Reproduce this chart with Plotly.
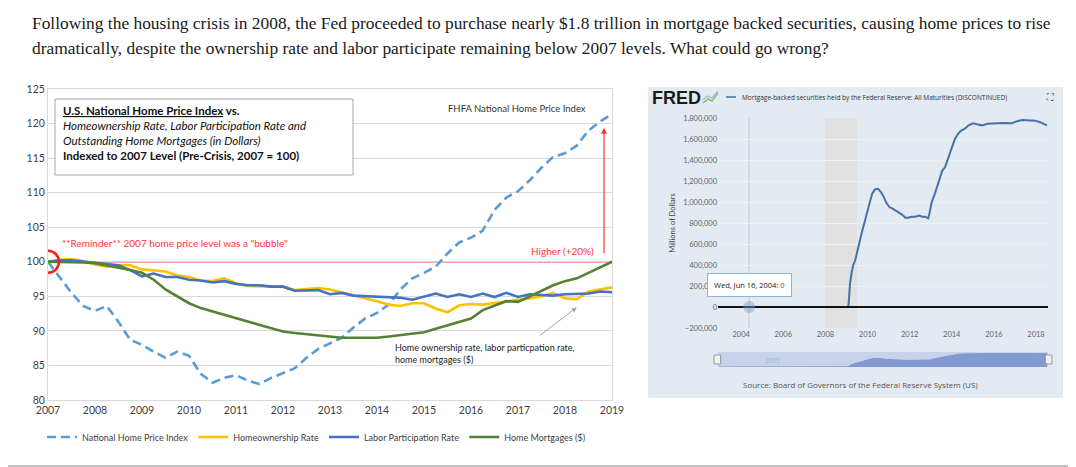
import plotly.graph_objects as go

# ---- left chart: quarterly index values, 2007 = 100 ----
quarters = [2007 + q / 4 for q in range(49)]

home_price = [100, 97.8, 95.5, 93.6, 92.9, 93.6, 91.3, 88.7, 88.0, 87.0, 86.1, 87.0,
              86.4, 83.8, 82.5, 83.2, 83.6, 82.8, 82.3, 83.2, 83.9, 84.6, 86.1, 87.4,
              88.2, 89.0, 90.5, 91.8, 92.6, 93.8, 96.0, 97.6, 98.4, 99.3, 101.2, 102.8,
              103.5, 104.5, 107.5, 109.3, 110.2, 111.8, 113.6, 115.2, 115.7, 116.8, 119.0,
              120.3, 121.4]
ownership = [100, 100.3, 100.4, 100.1, 99.6, 99.3, 99.5, 99.5, 98.9, 98.7, 98.6, 98.0,
             97.8, 97.3, 97.2, 97.6, 96.9, 96.5, 96.5, 96.4, 96.4, 95.9, 96.0, 96.2,
             96.0, 95.6, 95.2, 94.8, 94.3, 93.8, 93.6, 94.0, 94.0, 93.2, 92.7, 93.7,
             93.9, 93.8, 94.0, 94.2, 94.5, 94.7, 95.0, 95.5, 94.7, 94.6, 95.7, 96.0, 96.3]
labor = [100, 100.2, 100.2, 100.0, 99.8, 99.6, 99.5, 98.8, 97.9, 98.3, 97.8, 97.8,
         97.4, 97.3, 97.0, 97.2, 96.8, 96.6, 96.6, 96.4, 96.4, 95.8, 95.9, 95.9,
         95.3, 95.5, 95.1, 95.0, 95.0, 94.9, 94.8, 94.5, 95.0, 95.4, 94.9, 95.3,
         94.9, 95.4, 94.9, 95.5, 94.9, 95.3, 95.2, 95.1, 95.3, 95.3, 95.4, 95.7, 95.6]
mortgages = [100, 100.0, 100.0, 99.9, 99.8, 99.5, 99.1, 98.8, 98.4, 97.4, 96.0, 95.0,
             94.0, 93.3, 92.8, 92.3, 91.8, 91.3, 90.8, 90.3, 89.9, 89.7, 89.5, 89.3,
             89.1, 89.0, 89.0, 89.0, 89.0, 89.2, 89.4, 89.6, 89.8, 90.3, 90.8, 91.3,
             91.8, 93.0, 93.7, 94.3, 94.2, 95.0, 95.8, 96.6, 97.2, 97.6, 98.4, 99.2, 100.0]

series_names = ["National Home Price Index", "Homeownership Rate",
                "Labor Participation Rate", "Home Mortgages ($)"]
year_ticks = list(range(2007, 2020))

# ---- right chart: Fed MBS holdings (millions of dollars) ----
mbs_dates = [2002.95, 2009.05, 2009.10, 2009.17, 2009.25, 2009.32, 2009.41, 2009.48,
             2009.55, 2009.65, 2009.74, 2009.85, 2009.98, 2010.10, 2010.22, 2010.35,
             2010.50, 2010.62, 2010.74, 2010.90, 2011.05, 2011.17, 2011.40, 2011.64,
             2011.80, 2011.93, 2012.10, 2012.26, 2012.45, 2012.60, 2012.73, 2012.88,
             2012.95, 2013.05, 2013.20, 2013.40, 2013.55, 2013.68, 2013.85, 2014.01,
             2014.15, 2014.30, 2014.45, 2014.63, 2014.80, 2015.01, 2015.20, 2015.44,
             2015.70, 2016.05, 2016.40, 2016.86, 2017.10, 2017.34, 2017.60, 2017.95,
             2018.20, 2018.52]
mbs_values = [0, 0, 20000, 228000, 330000, 400000, 440000, 500000,
              560000, 660000, 720000, 800000, 900000, 1010000, 1080000, 1120000,
              1125000, 1100000, 1060000, 990000, 950000, 940000, 910000, 880000,
              850000, 850000, 860000, 860000, 870000, 860000, 860000, 845000,
              900000, 1000000, 1080000, 1200000, 1300000, 1330000, 1440000, 1520000,
              1600000, 1650000, 1680000, 1700000, 1730000, 1750000, 1740000, 1730000,
              1745000, 1750000, 1752000, 1750000, 1770000, 1780000, 1778000, 1775000,
              1760000, 1730000]
fred_ticks = [2004, 2006, 2008, 2010, 2012, 2014, 2016, 2018]
recession = (2007.98, 2009.5)
hover_date = 2004.38

# the page body adds an 8px margin, so the figure is drawn 8px smaller
OFF = 8
W, H = 1076 - OFF, 467 - OFF


def px(x):
    return (x - OFF) / W


def py(y):
    return 1 - (y - OFF) / H


FONT = "Lato"
fig = go.Figure()

styles = [dict(color="#5b9bd5", width=2.6, dash="9px,5px"),
          dict(color="#ffc000", width=2.6),
          dict(color="#4472c4", width=2.6),
          dict(color="#548235", width=2.6)]
for name, vals, st in zip(series_names, [home_price, ownership, labor, mortgages], styles):
    fig.add_trace(go.Scatter(x=quarters, y=vals, name=name, mode="lines",
                             line=st, xaxis="x", yaxis="y"))

fig.add_trace(go.Scatter(x=mbs_dates, y=mbs_values, mode="lines", showlegend=False,
                         line=dict(color="#4572a7", width=2), xaxis="x2", yaxis="y2"))
fig.add_trace(go.Scatter(x=mbs_dates, y=mbs_values, mode="lines", fill="tozeroy",
                         showlegend=False, line=dict(color="#7d98cf", width=1),
                         fillcolor="#819bd0", xaxis="x3", yaxis="y3"))

grid = "#d9d9d9"
fig.update_layout(
    width=W, height=H, autosize=False,
    margin=dict(l=0, r=0, t=0, b=0, autoexpand=False),
    paper_bgcolor="white", plot_bgcolor="white",
    font=dict(family=FONT, color="#404040"),
    xaxis=dict(domain=[px(48), px(612)], range=[2007, 2019], tickvals=year_ticks,
               showgrid=False, showline=True, linecolor=grid, mirror=True,
               tickfont=dict(size=10.5, color="#404040"), ticks="", zeroline=False,
               automargin=False),
    yaxis=dict(domain=[py(400), py(89)], range=[80, 125], dtick=5,
               gridcolor=grid, showline=True, linecolor=grid, mirror=True,
               tickfont=dict(size=10.5, color="#404040"), zeroline=False,
               automargin=False),
    xaxis2=dict(domain=[px(718), px(1048)], range=[2002.9, 2018.57], tickvals=fred_ticks,
                showgrid=False, showline=False, zeroline=False, anchor="y2",
                tickfont=dict(size=7.5, color="#666"), ticks="", automargin=False),
    yaxis2=dict(domain=[py(328), py(118)], range=[-200000, 1800000], dtick=200000,
                tickformat=",", gridcolor="#f0f0f0", zeroline=False,
                anchor="x2", tickfont=dict(size=7.5, color="#666"),
                automargin=False,
                title=dict(text="Millions of Dollars", font=dict(size=7.5, color="#444"),
                           standoff=6)),
    xaxis3=dict(domain=[px(718), px(1048)], range=[2002.9, 2018.57], visible=False,
                anchor="y3", automargin=False),
    yaxis3=dict(domain=[py(367), py(352)], range=[0, 1950000], visible=False,
                anchor="x3", automargin=False),
    legend=dict(orientation="h", x=px(42), y=py(437), xanchor="left", yanchor="middle",
                font=dict(size=9, color="#404040"), bgcolor="rgba(0,0,0,0)",
                itemwidth=30, tracegroupgap=0),
)

shapes = [
    # FRED panel background
    dict(type="rect", xref="paper", yref="paper", x0=px(648), x1=px(1063),
         y0=py(398), y1=py(87), fillcolor="#e3eaf1", line=dict(width=0), layer="below"),
    # recession shading
    dict(type="rect", xref="x2", yref="y2 domain", x0=recession[0], x1=recession[1],
         y0=0, y1=1, fillcolor="#e1e1e1", line=dict(width=0), layer="below"),
    # hover line
    dict(type="line", xref="x2", yref="y2 domain", x0=hover_date, x1=hover_date,
         y0=0, y1=1, line=dict(color="#c8c8c8", width=1), layer="below"),
    # zero line drawn over the series, as in FRED
    dict(type="line", xref="x2 domain", yref="y2", x0=0, x1=1, y0=0, y1=0,
         line=dict(color="#111", width=2)),
    # hover marker
    dict(type="circle", xref="x2", yref="y2", xsizemode="pixel", ysizemode="pixel",
         xanchor=hover_date, yanchor=0, x0=-6, x1=6, y0=-6, y1=6,
         fillcolor="rgba(124,160,210,0.45)", line=dict(width=0)),
    # navigator background
    dict(type="rect", xref="x3 domain", yref="y3 domain", x0=0, x1=1, y0=0, y1=1,
         fillcolor="#c6d3ea", line=dict(width=0), layer="below"),
    dict(type="rect", xref="x3 domain", yref="y3 domain", x0=-0.012, x1=0.008,
         y0=0.2, y1=0.8, fillcolor="#f2f2f2", line=dict(color="#999", width=1)),
    dict(type="rect", xref="x3 domain", yref="y3 domain", x0=0.992, x1=1.012,
         y0=0.2, y1=0.8, fillcolor="#f2f2f2", line=dict(color="#999", width=1)),
    # FRED legend swatch
    dict(type="line", xref="paper", yref="paper", x0=px(726), x1=px(736),
         y0=py(97), y1=py(97), line=dict(color="#4572a7", width=1.5)),
    # small FRED chart icon
    dict(type="path", xref="paper", yref="paper",
         path=f"M {px(703)},{py(103)} L {px(708)},{py(99)} L {px(712)},{py(101)} "
              f"L {px(718)},{py(93)}",
         line=dict(color="#8fbf6a", width=1.5)),
    dict(type="path", xref="paper", yref="paper",
         path=f"M {px(703)},{py(100)} L {px(707)},{py(96)} L {px(712)},{py(98)} "
              f"L {px(718)},{py(91)}",
         line=dict(color="#a9b8c9", width=1.2)),
    # 2007 = 100 reference line
    dict(type="line", xref="x", yref="y", x0=2007, x1=2019, y0=100, y1=100,
         line=dict(color="#e8484b", width=1.2), layer="below"),
    # red circle at the 2007 start
    dict(type="circle", xref="x", yref="y", xsizemode="pixel", ysizemode="pixel",
         xanchor=2007, yanchor=100, x0=-11, x1=11, y0=-11, y1=11,
         line=dict(color="#ff1a1a", width=2.5)),
    # title box
    dict(type="rect", xref="paper", yref="paper", x0=px(55), x1=px(353),
         y0=py(175), y1=py(99), fillcolor="white", line=dict(color="#a6a6a6", width=1)),
    # outer frame (right and bottom edges of the page)
    dict(type="line", xref="paper", yref="paper", x0=px(1075), x1=px(1075),
         y0=0, y1=1, line=dict(color="#bfbfbf", width=2)),
    dict(type="line", xref="paper", yref="paper", x0=0, x1=1,
         y0=py(466), y1=py(466), line=dict(color="#bfbfbf", width=2)),
]
fig.update_layout(shapes=shapes)

title_font = dict(family="Liberation Serif", size=17.4, color="#1a1a1a")
annotations = [
    dict(xref="paper", yref="paper", x=px(30), y=py(23), xanchor="left", yanchor="middle",
         showarrow=False, font=title_font,
         text="Following the housing crisis in 2008, the Fed proceeded to purchase nearly "
              "$1.8 trillion in mortgage backed securities, causing home prices to rise"),
    dict(xref="paper", yref="paper", x=px(30), y=py(48), xanchor="left", yanchor="middle",
         showarrow=False, font=title_font,
         text="dramatically, despite the ownership rate and labor participate remaining "
              "below 2007 levels. What could go wrong?"),
    # left chart box text
    dict(xref="paper", yref="paper", x=px(61), y=py(102), xanchor="left", yanchor="top",
         align="left", showarrow=False, font=dict(size=11.5, color="#111"),
         text="<b><u>U.S. National Home Price Index</u> vs.</b><br>"
              "<i>Homeownership Rate, Labor Participation Rate and</i><br>"
              "<i>Outstanding Home Mortgages (in Dollars)</i><br>"
              "<b>Indexed to 2007 Level (Pre-Crisis, 2007 = 100)</b>"),
    dict(xref="paper", yref="paper", x=px(517), y=py(108), xanchor="center",
         yanchor="middle", showarrow=False,
         font=dict(size=9.5, color="#333"), text="FHFA National Home Price Index"),
    dict(xref="paper", yref="paper", x=px(175), y=py(243), xanchor="center",
         yanchor="middle", showarrow=False, font=dict(size=10, color="#ff3333"),
         text="**Reminder** 2007 home price level was a \"bubble\""),
    dict(xref="paper", yref="paper", x=px(562), y=py(251), xanchor="center",
         yanchor="middle", showarrow=False, font=dict(size=10, color="#ff3333"),
         text="Higher (+20%)"),
    dict(xref="x", yref="y", x=2018.83, y=119.4, ax=2018.83, ay=101.0, axref="x", ayref="y",
         showarrow=True, arrowhead=2, arrowsize=1, arrowwidth=1.2, arrowcolor="#ff3333",
         text=""),
    dict(xref="paper", yref="paper", x=px(393), y=py(353), xanchor="left", yanchor="middle",
         align="left", showarrow=False, font=dict(size=9, color="#222"),
         text="Home ownership rate, labor particpation rate,<br>home mortgages ($)"),
    dict(xref="x", yref="y", x=2018.25, y=93.4, ax=2017.43, ay=89.15, axref="x", ayref="y",
         showarrow=True, arrowhead=2, arrowsize=1, arrowwidth=1, arrowcolor="#a6a6a6",
         text=""),
    # FRED header
    dict(xref="paper", yref="paper", x=px(650), y=py(98), xanchor="left", yanchor="middle",
         showarrow=False, text="<b>FRED</b>",
         font=dict(family="Liberation Sans", size=18, color="#1a1a1a")),
    dict(xref="paper", yref="paper", x=px(740), y=py(97), xanchor="left", yanchor="middle",
         showarrow=False, font=dict(family="Open Sans", size=6.5, color="#333"),
         text="Mortgage-backed securities held by the Federal Reserve: All Maturities "
              "(DISCONTINUED)"),
    dict(xref="paper", yref="paper", x=px(1050), y=py(97), xanchor="center",
         yanchor="middle", showarrow=False,
         font=dict(family="DejaVu Sans", size=9, color="#333"), text="⛶"),
    # tooltip
    dict(xref="x2", yref="y2", x=hover_date, y=205000, xanchor="center", yanchor="middle",
         showarrow=False,
         text="Wed, Jun 16, 2004: <span style='color:#555'>0</span>",
         font=dict(family="Open Sans", size=7.5, color="#222"),
         bgcolor="rgba(255,255,255,0.95)", bordercolor="#8cb4e0", borderwidth=1,
         borderpad=6),
    dict(xref="paper", yref="paper", x=px(772), y=py(360), xanchor="center",
         yanchor="middle", showarrow=False,
         font=dict(family="Open Sans", size=6.5, color="#a9b6cf"), text="2005"),
    dict(xref="paper", yref="paper", x=px(860), y=py(384), xanchor="center",
         yanchor="middle", showarrow=False,
         font=dict(family="Open Sans", size=8, color="#555"),
         text="Source: Board of Governors of the Federal Reserve System (US)"),
]
fig.update_layout(annotations=annotations)

fig.write_html("out.html")
